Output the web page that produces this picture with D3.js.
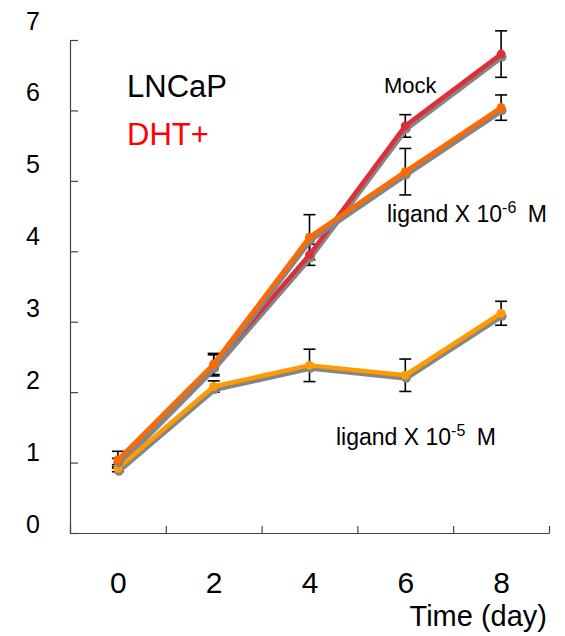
<!DOCTYPE html>
<meta charset="utf-8">
<style>
body {
  margin: 0;
  background: #fff;
  font-family: "Liberation Sans", Arial, sans-serif;
}
.axis path, .axis line {
  stroke: #444;
  stroke-width: 1.2;
}
.axis text {
  font-size: 25px;
  fill: #000;
  font-family: "Liberation Sans", Arial, sans-serif;
}
.xlab text {
  font-size: 30px;
}
</style>
<body>
<script src="https://cdn.jsdelivr.net/npm/d3@7"></script>
<script>

var width = 565,
    height = 636;

var days = [0, 2, 4, 6, 8];
var yTicks = [0, 1, 2, 3, 4, 5, 6, 7];

// mean values per day
var mock    = [1.00, 2.38, 3.95, 5.78, 6.80];
var lig6    = [1.04, 2.40, 4.20, 5.13, 6.04];
var lig5    = [0.92, 2.08, 2.38, 2.24, 3.12];

// error bar half-heights
var mockErr = [0.06, 0.15, 0.15, 0.16, 0.33];
var lig6Err = [0.12, 0.15, 0.32, 0.33, 0.18];
var lig5Err = [0.05, 0.08, 0.23, 0.23, 0.17];

var series = [
  {name: "Mock", values: mock, err: mockErr, color: "#dd2f3b"},
  {name: "lig5", values: lig5, err: lig5Err, color: "#ff9a00"},
  {name: "lig6", values: lig6, err: lig6Err, color: "#ff6a00"}
];

// x: days sit in the middle of each interval, ticks on the boundaries
var x = d3.scaleLinear()
    .domain([-1, 9])
    .range([70, 549]);

var y = d3.scaleLinear()
    .domain([0, 7])
    .range([533, 40]);

// tick labels sit a little above their ticks in the original
var yLab = d3.scaleLinear()
    .domain([0, 7])
    .range([524, 21]);

var svg = d3.select("body").append("svg")
    .attr("width", width)
    .attr("height", height);

// axes
svg.append("g")
    .attr("class", "axis")
    .attr("transform", "translate(0,533)")
    .call(d3.axisTop(x).tickValues([-1, 1, 3, 5, 7, 9]).tickSize(7).tickSizeOuter(0).tickFormat(""));

svg.append("g")
    .attr("class", "axis")
    .attr("transform", "translate(70,0)")
    .call(d3.axisRight(y).tickValues(yTicks).tickSize(8).tickSizeOuter(0).tickFormat(""));

svg.append("g")
    .attr("class", "axis xlab")
    .attr("transform", "translate(0,593)")
    .call(d3.axisBottom(x).tickValues(days).tickSize(0).tickFormat(d3.format("d")))
    .call(function(g) { g.select(".domain").remove(); })
    .selectAll("text").attr("dy", 0).attr("y", 0);

svg.append("g")
    .attr("class", "axis")
    .attr("transform", "translate(33,0)")
    .call(d3.axisLeft(yLab).tickValues(yTicks).tickSize(0).tickFormat(d3.format("d")))
    .call(function(g) { g.select(".domain").remove(); })
    .selectAll("text").attr("text-anchor", "middle").attr("x", 0);

svg.append("text")
    .attr("x", 547)
    .attr("y", 626)
    .attr("text-anchor", "end")
    .style("font-size", "29px")
    .text("Time (day)");

var line = d3.line()
    .x(function(d, i) { return x(days[i]); })
    .y(function(d) { return y(d); });

// error bars under the lines
series.forEach(function(s) {
  var eb = svg.append("g")
      .attr("stroke", "#000")
      .attr("stroke-width", 1.6)
      .attr("fill", "none");
  s.values.forEach(function(v, i) {
    var cx = x(days[i]);
    eb.append("line").attr("x1", cx).attr("x2", cx).attr("y1", y(v + s.err[i])).attr("y2", y(v - s.err[i]));
    eb.append("line").attr("x1", cx - 6).attr("x2", cx + 6).attr("y1", y(v + s.err[i])).attr("y2", y(v + s.err[i]));
    eb.append("line").attr("x1", cx - 6).attr("x2", cx + 6).attr("y1", y(v - s.err[i])).attr("y2", y(v - s.err[i]));
  });
});

series.forEach(function(s) {
  // gray drop shadow
  svg.append("path")
      .datum(s.values)
      .attr("fill", "none")
      .attr("stroke", "#858585")
      .attr("stroke-width", 5)
      .attr("stroke-linejoin", "round")
      .attr("transform", "translate(1,3)")
      .attr("d", line);
  svg.append("g").selectAll("circle")
      .data(s.values)
    .enter().append("circle")
      .attr("cx", function(d, i) { return x(days[i]) + 1; })
      .attr("cy", function(d) { return y(d) + 3; })
      .attr("r", 4.5)
      .attr("fill", "#858585");

  svg.append("path")
      .datum(s.values)
      .attr("fill", "none")
      .attr("stroke", s.color)
      .attr("stroke-width", 4.5)
      .attr("stroke-linejoin", "round")
      .attr("d", line);
  svg.append("g").selectAll("circle")
      .data(s.values)
    .enter().append("circle")
      .attr("cx", function(d, i) { return x(days[i]); })
      .attr("cy", function(d) { return y(d); })
      .attr("r", 4.5)
      .attr("fill", s.color);
});

// labels
svg.append("text").attr("x", 127).attr("y", 97).style("font-size", "31px").attr("fill", "#000").text("LNCaP");
svg.append("text").attr("x", 127).attr("y", 145).style("font-size", "31px").attr("fill", "#ff0000").text("DHT+");
svg.append("text").attr("x", 384).attr("y", 93).style("font-size", "22px").text("Mock");

function ligandLabel(xp, yp, exp) {
  var t = svg.append("text").attr("x", xp).attr("y", yp).style("font-size", "23px");
  t.append("tspan").text("ligand X 10");
  t.append("tspan").attr("dy", -9).style("font-size", "16px").text(exp);
  t.append("tspan").attr("dy", 9).text("\u2002M");
}
ligandLabel(387, 222, "-6");
ligandLabel(336, 445, "-5");

</script>
